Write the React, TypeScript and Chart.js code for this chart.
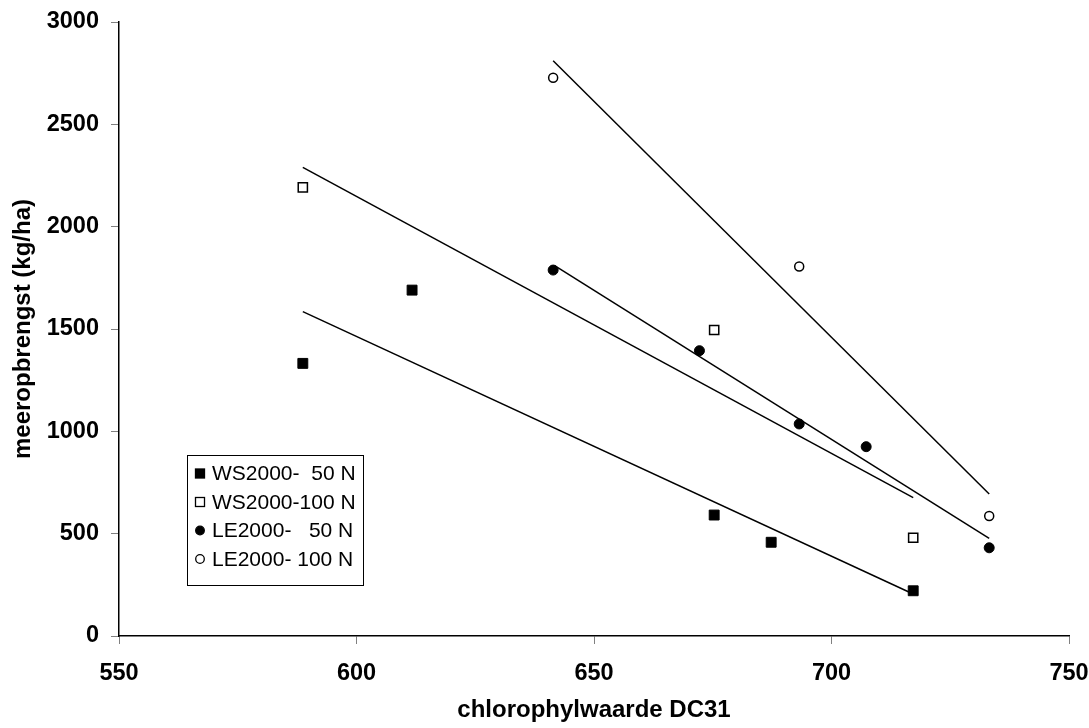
import { useEffect, useRef } from "react";
import { Chart, registerables } from "chart.js";

Chart.register(...registerables);

// Measured points (x = chlorophylwaarde DC31, y = meeropbrengst kg/ha)
const ws50X = [588.7, 611.7, 675.3, 687.3, 717.2];
const ws50Y = [1332, 1690, 591, 458, 221];
const ws100X = [588.7, 675.3, 717.2];
const ws100Y = [2192, 1495, 480];
const le50X = [641.4, 672.2, 693.2, 707.3, 733.2];
const le50Y = [1788, 1394, 1036, 925, 431];
const le100X = [641.4, 693.2, 733.2];
const le100Y = [2728, 1805, 586];

// Trend line end points
const ws50TrendX = [588.7, 717.2];
const ws50TrendY = [1585, 205];
const ws100TrendX = [588.7, 717.2];
const ws100TrendY = [2290, 676];
const le50TrendX = [641.8, 733.2];
const le50TrendY = [1808, 477];
const le100TrendX = [641.4, 733.2];
const le100TrendY = [2811, 694];

const seriesLabels = ["WS2000-  50 N", "WS2000-100 N", "LE2000-   50 N", "LE2000- 100 N"];
const xTitle = "chlorophylwaarde DC31";
const yTitle = "meeropbrengst (kg/ha)";
const xMin = 550, xMax = 750, xStep = 50;
const yMin = 0, yMax = 3000, yStep = 500;

const FONT = '"Liberation Sans", Arial, Helvetica, sans-serif';

const pts = (xs: number[], ys: number[]) => xs.map((x, i) => ({ x, y: ys[i] }));

const legendPlugin = {
  id: "boxLegend",
  afterDraw(chart: any) {
    const ctx = chart.ctx;
    const bx = 187, by = 455, bw = 176, bh = 130;
    ctx.save();
    ctx.fillStyle = "#ffffff";
    ctx.fillRect(bx, by, bw, bh);
    ctx.strokeStyle = "#000000";
    ctx.lineWidth = 1;
    ctx.strokeRect(bx + 0.5, by + 0.5, bw, bh);
    const items = chart.data.datasets.filter((d: any) => d.inLegend);
    items.forEach((d: any, i: number) => {
      const cy = by + 18.5 + i * 28.5;
      const cx = 200;
      ctx.lineWidth = 1.3;
      ctx.strokeStyle = "#000000";
      ctx.fillStyle = d.pointBackgroundColor;
      if (d.pointStyle === "rect") {
        ctx.fillRect(cx - 4.5, cy - 4.5, 9, 9);
        ctx.strokeRect(cx - 4.5, cy - 4.5, 9, 9);
      } else {
        ctx.beginPath();
        ctx.arc(cx, cy, 4.3, 0, Math.PI * 2);
        ctx.fill();
        ctx.stroke();
      }
      ctx.fillStyle = "#000000";
      ctx.font = `21px ${FONT}`;
      ctx.textBaseline = "middle";
      ctx.textAlign = "left";
      ctx.fillText(d.label, 212, cy + 1);
    });
    ctx.restore();
  },
};

export default function App() {
  const canvasRef = useRef<HTMLCanvasElement | null>(null);

  useEffect(() => {
    if (!canvasRef.current) return;
    const trend = (xs: number[], ys: number[]) => ({
      label: "trend",
      data: pts(xs, ys),
      showLine: true,
      borderColor: "#000000",
      borderWidth: 1.5,
      pointRadius: 0,
      fill: false,
      inLegend: false,
    });
    const pointSet = (label: string, xs: number[], ys: number[], style: string, filled: boolean) => ({
      label,
      data: pts(xs, ys),
      showLine: false,
      pointStyle: style,
      pointRadius: style === "rect" ? (filled ? 7 : 6.5) : (filled ? 5 : 4.5),
      pointBackgroundColor: filled ? "#000000" : "#ffffff",
      pointBorderColor: "#000000",
      pointBorderWidth: filled ? 1 : 1.5,
      backgroundColor: filled ? "#000000" : "#ffffff",
      borderColor: "#000000",
      inLegend: true,
    });

    const chart = new Chart(canvasRef.current, {
      type: "scatter",
      data: {
        datasets: [
          trend(ws50TrendX, ws50TrendY),
          trend(ws100TrendX, ws100TrendY),
          trend(le50TrendX, le50TrendY),
          trend(le100TrendX, le100TrendY),
          pointSet(seriesLabels[0], ws50X, ws50Y, "rect", true),
          pointSet(seriesLabels[1], ws100X, ws100Y, "rect", false),
          pointSet(seriesLabels[2], le50X, le50Y, "circle", true),
          pointSet(seriesLabels[3], le100X, le100Y, "circle", false),
        ] as any,
      },
      options: {
        animation: false,
        responsive: false,
        maintainAspectRatio: false,
        layout: { padding: { top: 22, right: 20, left: 0, bottom: 0 } },
        plugins: {
          legend: { display: false },
          tooltip: { enabled: false },
        },
        scales: {
          x: {
            type: "linear",
            min: xMin,
            max: xMax,
            ticks: {
              stepSize: xStep,
              color: "#000000",
              font: { family: FONT, size: 23.5, weight: "bold" },
              padding: 15,
              callback: (v: any) => String(v),
            },
            grid: {
              drawOnChartArea: false,
              drawTicks: true,
              tickLength: 8,
              tickColor: "#808080",
              tickWidth: 1,
            },
            border: { display: true, color: "#000000", width: 1.5 },
            title: {
              display: true,
              text: xTitle,
              color: "#000000",
              font: { family: FONT, size: 24, weight: "bold" },
              padding: { top: 0, bottom: 3 },
            },
            afterFit: (s: any) => {
              s.height = 92;
              s.paddingLeft = 0;
              s.paddingRight = 0;
            },
          },
          y: {
            type: "linear",
            min: yMin,
            max: yMax,
            ticks: {
              stepSize: yStep,
              color: "#000000",
              font: { family: FONT, size: 23.5, weight: "bold" },
              padding: 12,
              callback: (v: any) => String(v),
            },
            grid: {
              drawOnChartArea: false,
              drawTicks: true,
              tickLength: 8,
              tickColor: "#808080",
              tickWidth: 1,
            },
            border: { display: true, color: "#000000", width: 1.5 },
            title: {
              display: true,
              text: yTitle,
              color: "#000000",
              font: { family: FONT, size: 24, weight: "bold" },
              padding: { top: 9, bottom: 0 },
            },
            afterFit: (s: any) => {
              s.width = 119;
              s.paddingTop = 0;
              s.paddingBottom = 0;
            },
          },
        },
      } as any,
      plugins: [legendPlugin],
    });
    return () => chart.destroy();
  }, []);

  return (
    <div style={{ position: "fixed", left: 0, top: 0, width: 1089, height: 728, background: "#ffffff" }}>
      <canvas ref={canvasRef} width={1089} height={728} style={{ display: "block" }} />
    </div>
  );
}
